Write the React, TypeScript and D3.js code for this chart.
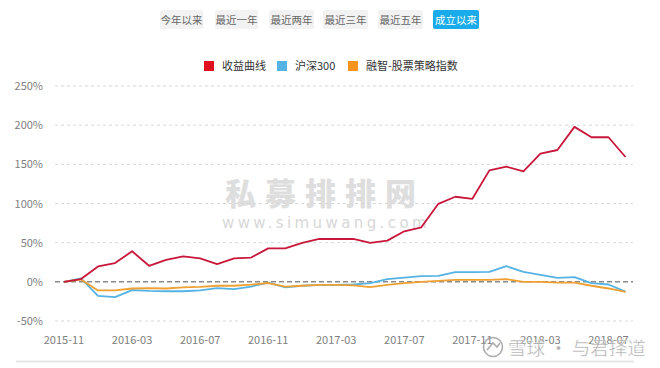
import React from 'react';
import * as d3 from 'd3';

// monthly points, 2015-11 .. 2018-08
const months = [
  '2015-11', '2015-12', '2016-01', '2016-02', '2016-03', '2016-04', '2016-05', '2016-06',
  '2016-07', '2016-08', '2016-09', '2016-10', '2016-11', '2016-12', '2017-01', '2017-02',
  '2017-03', '2017-04', '2017-05', '2017-06', '2017-07', '2017-08', '2017-09', '2017-10',
  '2017-11', '2017-12', '2018-01', '2018-02', '2018-03', '2018-04', '2018-05', '2018-06',
  '2018-07', '2018-08'
];

const fundReturn = [
  0, 3.5, 19.6, 24, 39, 20.5, 28, 32.5, 30, 22.7, 30, 31, 42.7, 42.7, 49.6, 54.7, 54.7,
  54.7, 49.6, 52.6, 64.5, 69.6, 99.6, 108.6, 106, 142.3, 147, 141, 163.7, 168.3, 197.8,
  184.6, 184.6, 159.4
];

const hs300 = [
  0, 4.5, -18, -19.6, -10.5, -11.5, -12, -12, -11, -8, -9.4, -6, -1, -7, -5, -3.8, -3.8,
  -3.4, -1.7, 3.4, 5.5, 7.3, 7.7, 12.4, 12.4, 12.8, 20, 12.8, 9, 5.1, 6, -1.7, -3.4, -12.4
];

const stockIndex = [
  0, 3, -11, -11, -8.5, -8, -8.5, -7, -6.4, -5, -5, -3.5, -1.5, -6, -5, -3.8, -3.8, -4.5,
  -6.8, -3.8, -1.7, 0, 1.3, 2.6, 2.6, 2.6, 3.5, 0, 0, -0.9, -0.9, -5, -8.5, -12.8
];

const xTicks = ['2015-11', '2016-03', '2016-07', '2016-11', '2017-03', '2017-07', '2017-11', '2018-03', '2018-07'];
const yTicks = [-50, 0, 50, 100, 150, 200, 250];
const buttons = ['今年以来', '最近一年', '最近两年', '最近三年', '最近五年', '成立以来'];

const seriesList = [
  { name: '收益曲线', values: fundReturn, color: '#c8173a', legend: '#e0101f' },
  { name: '沪深300', values: hs300, color: '#55b3e4', legend: '#55b3e4' },
  { name: '融智-股票策略指数', values: stockIndex, color: '#eea032', legend: '#f7941d' },
];

const W = 660;
const H = 368;
const font = '"Noto Sans CJK SC", "Open Sans", sans-serif';

export default function App() {
  const x = d3.scalePoint<string>().domain(months).range([64, 625.5]);
  const y = d3.scaleLinear().domain([-50, 250]).range([321, 86]);

  const line = (vals: number[]) =>
    d3.line<number>()
      .x((_, i) => x(months[i]) as number)
      .y((v) => y(v))(vals) || '';

  const btnX = [160, 215, 269, 323, 378, 433];
  const btnW = [43, 43, 45, 45, 45, 46];
  const legendX = [204, 277, 348];

  // draw order: blue, orange, red on top
  const drawOrder = [seriesList[1], seriesList[2], seriesList[0]];

  return (
    <div style={{ position: 'absolute', left: 0, top: 0 }}>
      <svg width={W} height={H} style={{ display: 'block', fontFamily: font }}>
        <rect width={W} height={H} fill="#fff" />

        {buttons.map((b, i) => (
          <g key={b}>
            <rect x={btnX[i]} y={10} width={btnW[i]} height={19} rx={2}
              fill={i === 5 ? '#1aacea' : '#f2f2f2'} />
            <text x={btnX[i] + btnW[i] / 2} y={23.5} textAnchor="middle" fontSize={10.5}
              fill={i === 5 ? '#fff' : '#666'}>{b}</text>
          </g>
        ))}

        {seriesList.map((s, i) => (
          <g key={s.name} transform={`translate(${legendX[i]},61)`}>
            <rect width={10} height={10} fill={s.legend} />
            <text x={18} y={9} fontSize={11} fill="#333">{s.name}</text>
          </g>
        ))}

        {/* watermark */}
        <text x={325} y={205} textAnchor="middle" fontSize={31} fontWeight="900"
          letterSpacing={9} fill="#dedede">私募排排网</text>
        <text x={326} y={228} textAnchor="middle" fontSize={15} letterSpacing={3.4}
          fill="#d8d8d8" fontFamily="DejaVu Sans, sans-serif">www.simuwang.com</text>

        {yTicks.map((t) => (
          <g key={t}>
            {t !== 0 && (
              <line x1={55} x2={633} y1={y(t)} y2={y(t)} stroke="#d8d8d8" strokeDasharray="3,3" />
            )}
            <text x={43} y={y(t) + 4} textAnchor="end" fontSize={11} fill="#808080">{t}%</text>
          </g>
        ))}
        <line x1={55} x2={633} y1={y(0)} y2={y(0)} stroke="#8a8a8a" strokeWidth={1.5} strokeDasharray="5,3" />

        {drawOrder.map((s) => (
          <path key={s.name} d={line(s.values)} fill="none" stroke={s.color} strokeWidth={1.8}
            strokeLinejoin="round" />
        ))}

        {xTicks.map((t) => (
          <text key={t} x={x(t)} y={344} textAnchor="middle" fontSize={11} fill="#808080">{t}</text>
        ))}

        <line x1={16} x2={634} y1={361.5} y2={361.5} stroke="#e6e6e6" strokeWidth={2} />

        {/* xueqiu watermark */}
        <g opacity={0.8}>
          <circle cx={493} cy={347} r={9.5} fill="none" stroke="#999" strokeWidth={1.6} />
          <path d="M487,350 L493,343 L497,347 L500,343" fill="none" stroke="#999" strokeWidth={1.6} />
          <text x={508} y={355} fontSize={18.5} fill="#999" stroke="#fff" strokeWidth={0.4}>雪球 · 与君择道</text>
        </g>
      </svg>
    </div>
  );
}
